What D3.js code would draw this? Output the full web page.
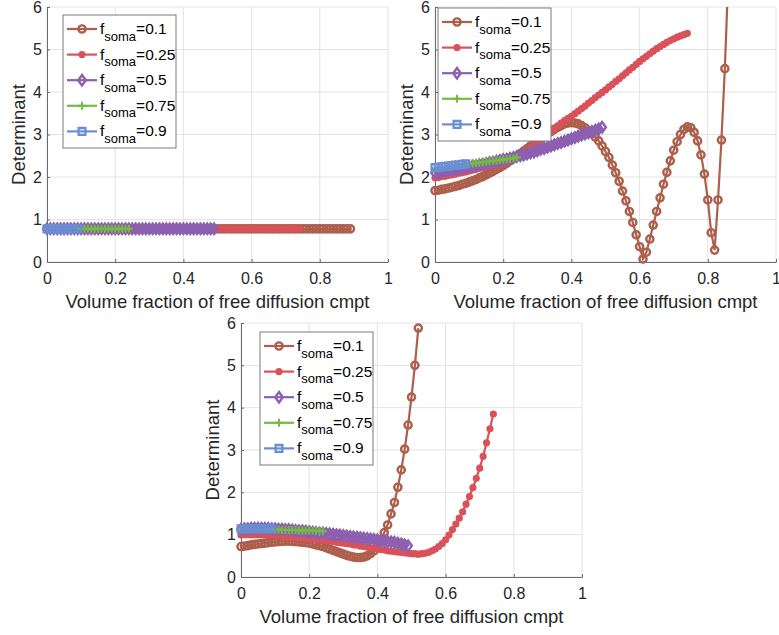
<!DOCTYPE html>
<html>
<head>
<meta charset="utf-8">
<script src="https://cdn.jsdelivr.net/npm/d3@7"></script>
<style>
body { margin: 0; background: #fff; }
svg { display: block; font-family: "Liberation Sans", Arial, Helvetica, sans-serif; }
</style>
</head>
<body>
<div id="chart"></div>
<script>
const width = 779;
const height = 635;

// x sampling grid (volume fraction of free diffusion cmpt)
const volumeFraction = [
	0, 0.01, 0.02, 0.03, 0.04, 0.05, 0.06, 0.07, 0.08, 0.09,
	0.1, 0.11, 0.12, 0.13, 0.14, 0.15, 0.16, 0.17, 0.18, 0.19,
	0.2, 0.21, 0.22, 0.23, 0.24, 0.25, 0.26, 0.27, 0.28, 0.29,
	0.3, 0.31, 0.32, 0.33, 0.34, 0.35, 0.36, 0.37, 0.38, 0.39,
	0.4, 0.41, 0.42, 0.43, 0.44, 0.45, 0.46, 0.47, 0.48, 0.49,
	0.5, 0.51, 0.52, 0.53, 0.54, 0.55, 0.56, 0.57, 0.58, 0.59,
	0.6, 0.61, 0.62, 0.63, 0.64, 0.65, 0.66, 0.67, 0.68, 0.69,
	0.7, 0.71, 0.72, 0.73, 0.74, 0.75, 0.76, 0.77, 0.78, 0.79,
	0.8, 0.81, 0.82, 0.83, 0.84, 0.85, 0.86, 0.87, 0.88, 0.89
];

const somaLabels = ["0.1", "0.25", "0.5", "0.75", "0.9"];
const xTicks = [0, 0.2, 0.4, 0.6, 0.8, 1];
const xTickLabels = ["0", "0.2", "0.4", "0.6", "0.8", "1"];
const yTicks = [0, 1, 2, 3, 4, 5, 6];
const yTickLabels = ["0", "1", "2", "3", "4", "5", "6"];

//------------------------------------------------
// top-left panel (flat)
const tl_soma01 = [
	0.78, 0.78, 0.78, 0.78, 0.78, 0.78, 0.78, 0.78, 0.78, 0.78,
	0.78, 0.78, 0.78, 0.78, 0.78, 0.78, 0.78, 0.78, 0.78, 0.78,
	0.78, 0.78, 0.78, 0.78, 0.78, 0.78, 0.78, 0.78, 0.78, 0.78,
	0.78, 0.78, 0.78, 0.78, 0.78, 0.78, 0.78, 0.78, 0.78, 0.78,
	0.78, 0.78, 0.78, 0.78, 0.78, 0.78, 0.78, 0.78, 0.78, 0.78,
	0.78, 0.78, 0.78, 0.78, 0.78, 0.78, 0.78, 0.78, 0.78, 0.78,
	0.78, 0.78, 0.78, 0.78, 0.78, 0.78, 0.78, 0.78, 0.78, 0.78,
	0.78, 0.78, 0.78, 0.78, 0.78, 0.78, 0.78, 0.78, 0.78, 0.78,
	0.78, 0.78, 0.78, 0.78, 0.78, 0.78, 0.78, 0.78, 0.78, 0.78
];
const tl_soma025 = [
	0.78, 0.78, 0.78, 0.78, 0.78, 0.78, 0.78, 0.78, 0.78, 0.78,
	0.78, 0.78, 0.78, 0.78, 0.78, 0.78, 0.78, 0.78, 0.78, 0.78,
	0.78, 0.78, 0.78, 0.78, 0.78, 0.78, 0.78, 0.78, 0.78, 0.78,
	0.78, 0.78, 0.78, 0.78, 0.78, 0.78, 0.78, 0.78, 0.78, 0.78,
	0.78, 0.78, 0.78, 0.78, 0.78, 0.78, 0.78, 0.78, 0.78, 0.78,
	0.78, 0.78, 0.78, 0.78, 0.78, 0.78, 0.78, 0.78, 0.78, 0.78,
	0.78, 0.78, 0.78, 0.78, 0.78, 0.78, 0.78, 0.78, 0.78, 0.78,
	0.78, 0.78, 0.78, 0.78, 0.78
];
const tl_soma05 = [
	0.78, 0.78, 0.78, 0.78, 0.78, 0.78, 0.78, 0.78, 0.78, 0.78,
	0.78, 0.78, 0.78, 0.78, 0.78, 0.78, 0.78, 0.78, 0.78, 0.78,
	0.78, 0.78, 0.78, 0.78, 0.78, 0.78, 0.78, 0.78, 0.78, 0.78,
	0.78, 0.78, 0.78, 0.78, 0.78, 0.78, 0.78, 0.78, 0.78, 0.78,
	0.78, 0.78, 0.78, 0.78, 0.78, 0.78, 0.78, 0.78, 0.78, 0.78
];
const tl_soma075 = [
	0.78, 0.78, 0.78, 0.78, 0.78, 0.78, 0.78, 0.78, 0.78, 0.78,
	0.78, 0.78, 0.78, 0.78, 0.78, 0.78, 0.78, 0.78, 0.78, 0.78,
	0.78, 0.78, 0.78, 0.78, 0.78
];
const tl_soma09 = [0.78, 0.78, 0.78, 0.78, 0.78, 0.78, 0.78, 0.78, 0.78, 0.78];

//------------------------------------------------
// top-right panel
const tr_soma01 = [
	1.68, 1.69, 1.71, 1.72, 1.74, 1.76, 1.78, 1.80, 1.83, 1.85,
	1.88, 1.91, 1.94, 1.98, 2.01, 2.05, 2.09, 2.13, 2.18, 2.22,
	2.27, 2.32, 2.38, 2.43, 2.49, 2.55, 2.61, 2.67, 2.73, 2.79,
	2.85, 2.91, 2.97, 3.02, 3.07, 3.12, 3.17, 3.21, 3.25, 3.27,
	3.28, 3.27, 3.25, 3.21, 3.16, 3.09, 3.02, 2.94, 2.85, 2.73,
	2.60, 2.46, 2.28, 2.10, 1.90, 1.67, 1.44, 1.19, 0.93, 0.64,
	0.36, 0.07, 0.23, 0.54, 0.87, 1.19, 1.51, 1.83, 2.11, 2.38,
	2.63, 2.83, 3.00, 3.12, 3.18, 3.16, 3.05, 2.85, 2.52, 2.07,
	1.46, 0.69, 0.28, 1.46, 2.87, 4.55, 6.70, 9.20, 12.1, 15.5
];
const tr_soma025 = [
	1.98, 1.99, 2.01, 2.02, 2.04, 2.05, 2.07, 2.09, 2.10, 2.12,
	2.14, 2.16, 2.18, 2.20, 2.22, 2.24, 2.26, 2.28, 2.30, 2.32,
	2.34, 2.38, 2.42, 2.46, 2.50, 2.54, 2.58, 2.63, 2.68, 2.74,
	2.80, 2.86, 2.92, 2.99, 3.06, 3.13, 3.20, 3.27, 3.33, 3.38,
	3.43, 3.49, 3.55, 3.61, 3.67, 3.74, 3.80, 3.87, 3.93, 3.99,
	4.05, 4.12, 4.18, 4.25, 4.31, 4.38, 4.45, 4.52, 4.58, 4.65,
	4.72, 4.78, 4.84, 4.90, 4.96, 5.02, 5.07, 5.12, 5.17, 5.21,
	5.25, 5.29, 5.32, 5.35, 5.38
];
const tr_soma05 = [
	2.10, 2.11, 2.13, 2.14, 2.16, 2.17, 2.18, 2.20, 2.21, 2.23,
	2.24, 2.26, 2.27, 2.29, 2.30, 2.32, 2.34, 2.35, 2.37, 2.39,
	2.41, 2.42, 2.44, 2.46, 2.48, 2.50, 2.52, 2.54, 2.57, 2.59,
	2.62, 2.65, 2.67, 2.70, 2.73, 2.76, 2.79, 2.81, 2.84, 2.87,
	2.90, 2.93, 2.96, 2.99, 3.01, 3.04, 3.07, 3.10, 3.13, 3.17
];
const tr_soma075 = [
	2.20, 2.21, 2.22, 2.23, 2.24, 2.25, 2.26, 2.27, 2.28, 2.29,
	2.31, 2.32, 2.33, 2.34, 2.35, 2.36, 2.37, 2.38, 2.39, 2.40,
	2.41, 2.42, 2.43, 2.44, 2.46
];
const tr_soma09 = [2.22, 2.23, 2.24, 2.25, 2.26, 2.27, 2.28, 2.29, 2.30, 2.31];

//------------------------------------------------
// bottom panel
const bt_soma01 = [
	0.72, 0.73, 0.74, 0.76, 0.77, 0.78, 0.79, 0.80, 0.81, 0.82,
	0.83, 0.835, 0.84, 0.845, 0.845, 0.84, 0.835, 0.83, 0.82, 0.81,
	0.80, 0.78, 0.76, 0.74, 0.72, 0.69, 0.66, 0.63, 0.60, 0.57,
	0.54, 0.51, 0.49, 0.47, 0.46, 0.46, 0.47, 0.50, 0.55, 0.62,
	0.72, 0.85, 1.05, 1.23, 1.49, 1.76, 2.12, 2.53, 3.02, 3.59,
	4.25, 5.00, 5.88
];
const bt_soma025 = [
	0.99, 1.00, 1.00, 1.00, 1.00, 1.00, 1.00, 1.00, 0.99, 0.99,
	0.99, 0.98, 0.98, 0.97, 0.97, 0.96, 0.95, 0.94, 0.93, 0.92,
	0.91, 0.90, 0.89, 0.88, 0.87, 0.86, 0.85, 0.84, 0.82, 0.81,
	0.80, 0.79, 0.78, 0.76, 0.75, 0.73, 0.72, 0.71, 0.69, 0.68,
	0.67, 0.65, 0.64, 0.62, 0.61, 0.60, 0.59, 0.58, 0.57, 0.56,
	0.55, 0.55, 0.54, 0.55, 0.56, 0.58, 0.62, 0.66, 0.72, 0.79,
	0.88, 0.99, 1.12, 1.25, 1.39, 1.54, 1.72, 1.90, 2.11, 2.33,
	2.57, 2.85, 3.17, 3.50, 3.85
];
const bt_soma05 = [
	1.13, 1.14, 1.14, 1.15, 1.15, 1.15, 1.15, 1.15, 1.15, 1.14,
	1.14, 1.13, 1.13, 1.12, 1.12, 1.11, 1.10, 1.09, 1.09, 1.08,
	1.07, 1.06, 1.05, 1.04, 1.04, 1.03, 1.02, 1.01, 1.00, 0.99,
	0.98, 0.97, 0.96, 0.95, 0.94, 0.93, 0.92, 0.91, 0.90, 0.89,
	0.88, 0.86, 0.85, 0.84, 0.83, 0.82, 0.80, 0.78, 0.76, 0.74
];
const bt_soma075 = [
	1.13, 1.13, 1.13, 1.13, 1.13, 1.13, 1.13, 1.12, 1.12, 1.12,
	1.12, 1.12, 1.11, 1.11, 1.11, 1.11, 1.11, 1.10, 1.10, 1.10,
	1.10, 1.09, 1.09, 1.09, 1.08
];
const bt_soma09 = [1.14, 1.14, 1.14, 1.14, 1.14, 1.14, 1.14, 1.14, 1.14, 1.14];

//------------------------------------------------
// styling
const colors = ["#ad5f4c", "#d9525a", "#8c5fb0", "#74bb42", "#6a8dd6"];
const markerTypes = ["circle", "dot", "diamond", "plus", "square"];
const font = 16;        // tick labels
const labelFont = 18.5; // axis titles

function markerPath(type) {
	if (type === "circle") { let p = d3.path(); p.arc(0, 0, 3.6, 0, 2 * Math.PI); return p.toString(); }
	if (type === "dot") { let p = d3.path(); p.arc(0, 0, 2.8, 0, 2 * Math.PI); return p.toString(); }
	if (type === "diamond") return "M0,-5.2L3.8,0L0,5.2L-3.8,0Z";
	if (type === "plus") return "M-4,0H4M0,-4V4";
	return "M-3.4,-3.4H3.4V3.4H-3.4Z"; // square
}
const markerStroke = { circle: 2.4, dot: 1.6, diamond: 2.4, plus: 2, square: 2.3 };

const panels = [
	{ left: 47, right: 388, bottom: 262, top: 7, legX: 63, legY: 15,
		series: [tl_soma01, tl_soma025, tl_soma05, tl_soma075, tl_soma09] },
	{ left: 435, right: 776, bottom: 262, top: 7, legX: 438, legY: 8,
		series: [tr_soma01, tr_soma025, tr_soma05, tr_soma075, tr_soma09] },
	{ left: 241, right: 582, bottom: 577, top: 323, legX: 260, legY: 332,
		series: [bt_soma01, bt_soma025, bt_soma05, bt_soma075, bt_soma09] }
];

let svg = d3.select("#chart").append("svg")
	.attr("width", width)
	.attr("height", height);

panels.forEach(function(pan, pi) {
	let g = svg.append("g");

	let xScale = d3.scaleLinear().domain([0, 1]).range([pan.left, pan.right]);
	let yScale = d3.scaleLinear().domain([0, 6]).range([pan.bottom, pan.top]);

	// grid
	g.append("g").selectAll("line")
		.data(xTicks).enter().append("line")
		.attr("x1", d => xScale(d)).attr("x2", d => xScale(d))
		.attr("y1", yScale(0)).attr("y2", yScale(6))
		.attr("stroke", "#e3e3e3").attr("stroke-width", 1);
	g.append("g").selectAll("line")
		.data(yTicks).enter().append("line")
		.attr("x1", xScale(0)).attr("x2", xScale(1))
		.attr("y1", d => yScale(d)).attr("y2", d => yScale(d))
		.attr("stroke", "#e3e3e3").attr("stroke-width", 1);

	// axes
	let xAxis = d3.axisBottom(xScale)
		.tickValues(xTicks)
		.tickFormat((d, i) => xTickLabels[i])
		.tickSizeInner(-3).tickSizeOuter(0).tickPadding(11);
	let gx = g.append("g")
		.attr("transform", "translate(0," + pan.bottom + ")")
		.call(xAxis);
	let yAxis = d3.axisLeft(yScale)
		.tickValues(yTicks)
		.tickFormat((d, i) => yTickLabels[i])
		.tickSizeInner(-3).tickSizeOuter(0).tickPadding(5);
	let gy = g.append("g")
		.attr("transform", "translate(" + pan.left + ",0)")
		.call(yAxis);
	[gx, gy].forEach(function(a) {
		a.select(".domain").attr("stroke", "#6b6b6b");
		a.selectAll(".tick line").attr("stroke", "#6b6b6b");
		a.selectAll(".tick text")
			.attr("fill", "#262626")
			.style("font-size", font + "px")
			.style("font-family", "'Liberation Sans', Arial, sans-serif");
	});

	g.append("text")
		.attr("x", (pan.left + pan.right) / 2)
		.attr("y", pan.bottom + 46)
		.attr("text-anchor", "middle")
		.attr("fill", "#262626")
		.style("font-size", labelFont + "px")
		.text("Volume fraction of free diffusion cmpt");

	g.append("text")
		.attr("transform", "translate(" + (pan.left - 22) + "," + ((pan.top + pan.bottom) / 2) + ") rotate(-90)")
		.attr("text-anchor", "middle")
		.attr("fill", "#262626")
		.style("font-size", labelFont + "px")
		.text("Determinant");

	// clip plot region (curves leave through the top)
	let clipId = "clip" + pi;
	svg.append("clipPath").attr("id", clipId)
		.append("rect")
		.attr("x", pan.left - 10).attr("y", pan.top)
		.attr("width", pan.right - pan.left + 20)
		.attr("height", pan.bottom - pan.top + 10);

	let plot = g.append("g").attr("clip-path", "url(#" + clipId + ")");

	pan.series.forEach(function(values, si) {
		let pts = values.map((v, j) => [volumeFraction[j], v]);
		let line = d3.line().x(d => xScale(d[0])).y(d => yScale(d[1]));
		plot.append("path")
			.datum(pts)
			.attr("d", line)
			.attr("fill", "none")
			.attr("stroke", colors[si])
			.attr("stroke-width", 2.2);
		let mk = markerTypes[si];
		plot.append("g").selectAll("path")
			.data(pts.filter(d => d[1] <= 6.3))
			.enter().append("path")
			.attr("d", markerPath(mk))
			.attr("transform", d => "translate(" + xScale(d[0]) + "," + yScale(d[1]) + ")")
			.attr("fill", mk === "dot" ? colors[si] : "none")
			.attr("stroke", colors[si])
			.attr("stroke-width", markerStroke[mk]);
	});

	// legend
	let leg = g.append("g").attr("transform", "translate(" + pan.legX + "," + pan.legY + ")");
	leg.append("rect")
		.attr("width", 113).attr("height", 133)
		.attr("fill", "#fff").attr("stroke", "#7a7a7a").attr("stroke-width", 1);
	somaLabels.forEach(function(lab, k) {
		let ly = 14 + k * 25.6;
		leg.append("line")
			.attr("x1", 4).attr("x2", 34).attr("y1", ly).attr("y2", ly)
			.attr("stroke", colors[k]).attr("stroke-width", 2.2);
		leg.append("path")
			.attr("d", markerPath(markerTypes[k]))
			.attr("transform", "translate(19," + ly + ")")
			.attr("fill", markerTypes[k] === "dot" ? colors[k] : "none")
			.attr("stroke", colors[k]).attr("stroke-width", markerStroke[markerTypes[k]]);
		let t = leg.append("text")
			.attr("x", 37).attr("y", ly + 5)
			.attr("fill", "#000")
			.style("font-size", "15.5px");
		t.append("tspan").text("f");
		t.append("tspan").attr("dy", 6.5).style("font-size", "13px").text("soma");
		t.append("tspan").attr("dy", -6.5).text("=" + lab);
	});
});
</script>
</body>
</html>
